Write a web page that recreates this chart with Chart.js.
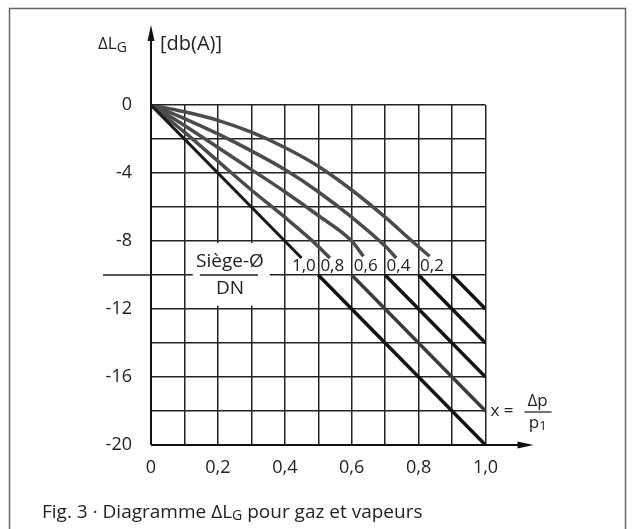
<!DOCTYPE html>
<html>
<head>
<meta charset="utf-8">
<script src="https://cdn.jsdelivr.net/npm/chart.js@4.4.1/dist/chart.umd.min.js"></script>
<style>
  html, body { margin: 0; padding: 0; background: #fff; }
  #wrap { position: relative; width: 634px; height: 529px; }
</style>
</head>
<body>
<div id="wrap"><canvas id="myChart"></canvas></div>
<script>
const seatLabels = ['1,0', '0,8', '0,6', '0,4', '0,2'];

// upper part of each curve (x = dp/p1, dL in dB(A)), up to its label
const upperX10 = [0, 0.45];
const upperY10 = [0, -9.0];
const upperX08 = [0, 0.1, 0.2, 0.3, 0.4, 0.48, 0.535];
const upperY08 = [0, -1.6, -3.3, -5.0, -6.6, -7.95, -9.0];
const upperX06 = [0, 0.1, 0.2, 0.3, 0.4, 0.5, 0.6, 0.635];
const upperY06 = [0, -1.2, -2.5, -3.8, -5.1, -6.5, -8.0, -8.9];
const upperX04 = [0, 0.1, 0.2, 0.3, 0.4, 0.5, 0.6, 0.7, 0.733];
const upperY04 = [0, -0.8, -1.7, -2.7, -3.8, -5.1, -6.6, -8.3, -9.0];
const upperX02 = [0, 0.1, 0.2, 0.3, 0.4, 0.5, 0.6, 0.7, 0.78, 0.833];
const upperY02 = [0, -0.4, -0.9, -1.6, -2.5, -3.6, -5.0, -6.6, -8.0, -8.9];

// lower straight part of each curve, below the -10 line
const lowerStartX = [0.5, 0.6, 0.7, 0.8, 0.9];
const lowerStartY = [-10, -10, -10, -10, -10];
const lowerEndX = [1.0, 1.0, 1.0, 1.0, 1.0];
const lowerEndY = [-20, -18, -16, -14, -12];

const xTickLabels = ['0', '0,2', '0,4', '0,6', '0,8', '1,0'];
const yTickLabels = ['0', '-4', '-8', '-12', '-16', '-20'];

const FONT = '"Open Sans", "Noto Sans", sans-serif';
const INK = '#222';

const upperXs = [upperX10, upperX08, upperX06, upperX04, upperX02];
const upperYs = [upperY10, upperY08, upperY06, upperY04, upperY02];

const datasets = [];
lowerStartX.forEach((sx, i) => {
  datasets.push({
    data: [{x: sx, y: lowerStartY[i]}, {x: lowerEndX[i], y: lowerEndY[i]}],
    showLine: true,
    borderColor: i === 1 ? '#3c3c3c' : '#141414',
    borderWidth: 3.5,
    pointRadius: 0
  });
});
upperXs.forEach((xs, i) => {
  datasets.push({
    data: xs.map((v, k) => ({x: v, y: upperYs[i][k]})),
    showLine: true,
    cubicInterpolationMode: 'monotone',
    borderColor: i === 0 ? '#181818' : '#4b4b4b',
    borderWidth: i === 0 ? 3 : 3.5,
    pointRadius: 0
  });
});

function drawParts(ctx, parts, x, y) {
  parts.forEach(p => {
    ctx.font = p[1] + 'px ' + FONT;
    ctx.fillText(p[0], x, y + p[2]);
    x += ctx.measureText(p[0]).width;
  });
  return x;
}

const extras = {
  id: 'extras',
  beforeDraw(chart) {
    const ctx = chart.ctx;
    ctx.save();
    ctx.strokeStyle = '#666';
    ctx.lineWidth = 1.5;
    ctx.strokeRect(9.5, 8.5, 616, 600);
    ctx.restore();
  },
  beforeDatasetsDraw(chart) {
    const {ctx, chartArea: a, scales: {x, y}} = chart;
    ctx.save();
    // white box for the Siège-Ø / DN label
    const l = x.getPixelForValue(0.125), r = x.getPixelForValue(0.355);
    const t = y.getPixelForValue(-8.12), b = y.getPixelForValue(-11.8);
    ctx.fillStyle = '#fff';
    ctx.fillRect(l, t, r - l, b - t);
    ctx.strokeStyle = INK;
    ctx.lineWidth = 1.5;
    const y10 = y.getPixelForValue(-10);
    ctx.beginPath();
    ctx.moveTo(x.getPixelForValue(0.146), y10);
    ctx.lineTo(x.getPixelForValue(0.32), y10);
    // -10 line runs out to the left of the axis
    ctx.moveTo(a.left - 48, y10);
    ctx.lineTo(a.left, y10);
    ctx.stroke();

    // axes with arrows
    ctx.strokeStyle = '#111';
    ctx.fillStyle = '#111';
    ctx.lineWidth = 2;
    ctx.beginPath();
    ctx.moveTo(a.left, a.bottom);
    ctx.lineTo(a.left, a.top - 70);
    ctx.moveTo(a.left, a.bottom);
    ctx.lineTo(a.right + 38, a.bottom);
    ctx.stroke();
    ctx.beginPath();
    ctx.moveTo(a.left, a.top - 80);
    ctx.lineTo(a.left - 3.5, a.top - 64);
    ctx.lineTo(a.left + 3.5, a.top - 64);
    ctx.closePath();
    ctx.moveTo(a.right + 48, a.bottom);
    ctx.lineTo(a.right + 32, a.bottom - 3.5);
    ctx.lineTo(a.right + 32, a.bottom + 3.5);
    ctx.closePath();
    ctx.fill();
    ctx.restore();
  },
  afterDatasetsDraw(chart) {
    const {ctx, chartArea: a, scales: {x, y}} = chart;
    ctx.save();
    ctx.fillStyle = INK;
    ctx.textBaseline = 'middle';
    ctx.textAlign = 'center';
    ctx.font = '17px ' + FONT;
    // curve names
    upperXs.forEach((xs, i) => {
      ctx.fillText(seatLabels[i], x.getPixelForValue(xs[xs.length - 1] + 0.007), y.getPixelForValue(-9.47));
    });
    const cx = x.getPixelForValue(0.236);
    const y10 = y.getPixelForValue(-10);
    ctx.font = '19px ' + FONT;
    ctx.fillText('Siège-Ø', cx, y10 - 13);
    ctx.fillText('DN', cx, y10 + 14);

    // x = Δp / p1
    const yx = y.getPixelForValue(-18);
    ctx.font = '17px ' + FONT;
    ctx.textAlign = 'left';
    ctx.fillText('x =', a.right + 5, yx);
    ctx.textAlign = 'center';
    ctx.fillText('Δp', a.right + 52, yx - 10);
    ctx.textAlign = 'left';
    const pw = ctx.measureText('p').width;
    drawParts(ctx, [['p', 17, 0], ['1', 13, 3]], a.right + 52 - (pw + 7) / 2, yx + 12);
    ctx.strokeStyle = INK;
    ctx.lineWidth = 1.3;
    ctx.beginPath();
    ctx.moveTo(a.right + 39, yx + 1);
    ctx.lineTo(a.right + 66, yx + 1);
    ctx.stroke();

    // axis title
    ctx.textBaseline = 'alphabetic';
    ctx.textAlign = 'left';
    drawParts(ctx, [['ΔL', 17, 0], ['G', 14, 3]], a.left - 53, a.top - 56);
    drawParts(ctx, [['[db(A)]', 20, 0]], a.left + 9, a.top - 55);

    // caption
    drawParts(ctx, [['Fig. 3 · Diagramme ΔL', 19, 0], ['G', 14, 2], [' pour gaz et vapeurs', 19, 0]], 42, 518);
    ctx.restore();
  }
};

new Chart(document.getElementById('myChart'), {
  type: 'scatter',
  data: { datasets: datasets },
  plugins: [extras],
  options: {
    responsive: true,
    maintainAspectRatio: false,
    animation: false,
    layout: { padding: { left: 91, top: 105, right: 148.5, bottom: 44 } },
    plugins: { legend: { display: false }, tooltip: { enabled: false } },
    scales: {
      x: {
        type: 'linear', min: 0, max: 1,
        afterFit(scale) { scale.height = 40; },
        border: { display: false },
        grid: { color: INK, lineWidth: 1.5, drawTicks: false },
        ticks: {
          stepSize: 0.1, autoSkip: false, maxRotation: 0, padding: 12,
          color: INK, font: { family: FONT, size: 18 },
          callback: v => {
            const k = Math.round(v * 10);
            return k % 2 === 0 ? xTickLabels[k / 2] : '';
          }
        }
      },
      y: {
        type: 'linear', min: -20, max: 0,
        afterFit(scale) { scale.width = 60; },
        border: { display: false },
        grid: { color: INK, lineWidth: 1.5, drawTicks: false },
        ticks: {
          stepSize: 2, autoSkip: false, padding: 19,
          color: INK, font: { family: FONT, size: 18 },
          callback: v => {
            const k = Math.round(-v / 2);
            return k % 2 === 0 ? yTickLabels[k / 2] : '';
          }
        }
      }
    }
  }
});
</script>
</body>
</html>
